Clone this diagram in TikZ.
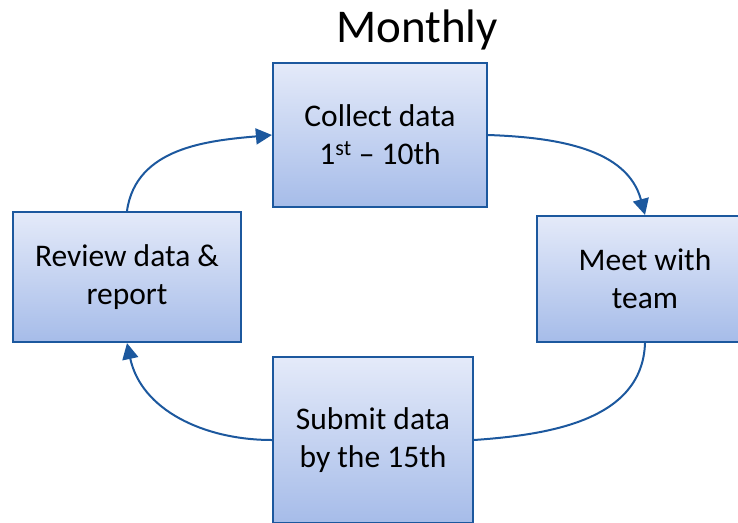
\documentclass[tikz,border=0pt]{standalone}
\usepackage{fontspec}
\setmainfont{Carlito}
\usetikzlibrary{arrows.meta}
\definecolor{edgeblue}{RGB}{28,88,158}
\definecolor{filltop}{RGB}{228,234,249}
\definecolor{fillbot}{RGB}{166,188,233}
\tikzset{
  stagebox/.style={draw=edgeblue, line width=2.2pt, rectangle, inner sep=0pt,
    top color=filltop, bottom color=fillbot, align=center,
    font=\fontsize{31.5}{38}\selectfont},
  cycleflow/.style={draw=edgeblue, line width=2pt,
    -{Triangle[length=16pt,width=16pt]}},
  cycleline/.style={draw=edgeblue, line width=2pt},
}
\begin{document}
\begin{tikzpicture}[x=1pt,y=1pt]
\useasboundingbox (0,0) rectangle (738,-522);

\node[font=\fontsize{47}{52}\selectfont, anchor=base] (title) at (417,-42) {Monthly};

\node[stagebox, minimum width=214pt, minimum height=144pt] (collect) at (380,-135)
  {Collect data\\1\textsuperscript{st} – 10th};
\node[stagebox, minimum width=216pt, minimum height=126pt] (meet) at (645,-279)
  {Meet with\\team};
\node[stagebox, minimum width=228pt, minimum height=130pt] (review) at (127,-277)
  {Review data \&\\report};
\node[stagebox, minimum width=200pt, minimum height=166pt] (submit) at (373,-440)
  {Submit data\\by the 15th};

\draw[cycleflow] (review.north) to[out=82, in=185] (collect.west);
\draw[cycleflow] (collect.east) to[out=-2, in=105] (meet.north);
\draw[cycleline] (meet.south) to[out=-92, in=4] (submit.east);
\draw[cycleflow] (submit.west) to[out=180, in=-78] (review.south);
\end{tikzpicture}
\end{document}
